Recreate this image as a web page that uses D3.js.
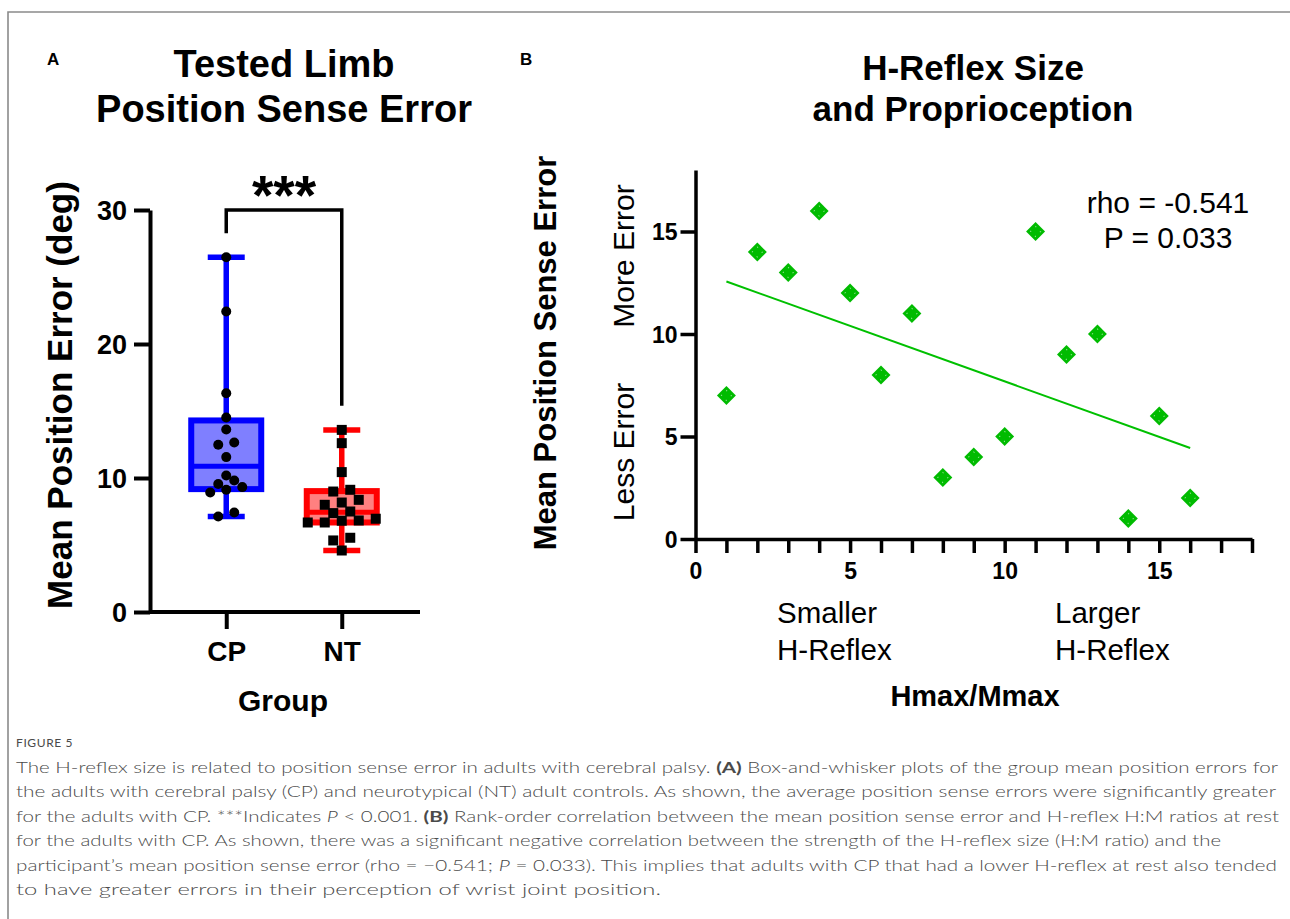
<!DOCTYPE html>
<html>
<head>
<meta charset="utf-8">
<script src="https://cdn.jsdelivr.net/npm/d3@7"></script>
<style>
  body { margin: 0; background: #fff; }
  svg { display: block; font-family: "Liberation Sans", Arial, sans-serif; }
  .cap { font-family: Lato, "Open Sans", sans-serif; font-weight: 300; fill: #4a4a4a; }
</style>
</head>
<body>
<div id="fig"></div>
<script>
// ---- data ----
var groups = ["CP", "NT"];
var cpErrors = [26.47, 22.42, 16.33, 14.52, 13.62, 12.65, 12.48, 11.56, 10.19, 9.82, 9.55, 9.32, 9.12, 8.92, 7.43, 7.13];
var ntErrors = [13.59, 12.60, 10.44, 9.12, 8.99, 8.37, 8.17, 8.0, 7.50, 7.38, 6.96, 6.83, 6.81, 6.68, 6.68, 5.54, 5.34, 4.59];
var errorTicks = [0, 10, 20, 30];

var hRank = [1, 2, 3, 4, 5, 6, 7, 8, 9, 10, 11, 12, 13, 14, 15, 16];
var errRank = [7, 14, 13, 16, 12, 8, 11, 3, 4, 5, 15, 9, 10, 1, 6, 2];
var fitX = [1, 16];
var fitY = [12.56, 4.44];
var rankTicks = [0, 5, 10, 15];

var captionLines = [
  [["The H-reflex size is related to position sense error in adults with cerebral palsy. "], ["(A)", "b"], [" Box-and-whisker plots of the group mean position errors for"]],
  [["the adults with cerebral palsy (CP) and neurotypical (NT) adult controls. As shown, the average position sense errors were significantly greater"]],
  [["for the adults with CP. ***Indicates "], ["P", "i"], [" < 0.001. "], ["(B)", "b"], [" Rank-order correlation between the mean position sense error and H-reflex H:M ratios at rest"]],
  [["for the adults with CP. As shown, there was a significant negative correlation between the strength of the H-reflex size (H:M ratio) and the"]],
  [["participant\u2019s mean position sense error (rho = \u22120.541; "], ["P", "i"], [" = 0.033). This implies that adults with CP that had a lower H-reflex at rest also tended"]],
  [["to have greater errors in their perception of wrist joint position."]]
];
var captionEnds = [1278, 1276, 1279, 1221, 1277, 661];

var W = 1290, H = 919;
var svg = d3.select("#fig").append("svg").attr("width", W).attr("height", H);

// frame
svg.append("path").attr("d", "M8," + H + "V12H" + W)
  .attr("fill", "none").attr("stroke", "#8a8a8a").attr("stroke-width", 1.6);

// ---------------- Panel A ----------------
var yA = d3.scaleLinear().domain([0, 30]).range([612, 210]);
var xA = d3.scalePoint().domain(groups).range([150, 418]).padding(0.66);

svg.append("text").attr("x", 47).attr("y", 65).attr("font-size", 17).attr("font-weight", "bold").text("A");
svg.append("text").attr("x", 284).attr("y", 77).attr("text-anchor", "middle")
  .attr("font-size", 38).attr("font-weight", "bold").text("Tested Limb");
svg.append("text").attr("x", 284).attr("y", 122).attr("text-anchor", "middle")
  .attr("font-size", 38).attr("font-weight", "bold").text("Position Sense Error");

function quantN1(a, p) {
  var s = a.slice().sort(d3.ascending), n = s.length;
  var h = (n + 1) * p, lo = Math.floor(h);
  if (lo < 1) return s[0];
  if (lo >= n) return s[n - 1];
  return s[lo - 1] + (h - lo) * (s[lo] - s[lo - 1]);
}

// spread points of similar value side by side
function spread(vals, thr, step) {
  var s = vals.slice().sort(d3.ascending), out = [], i = 0;
  while (i < s.length) {
    var j = i;
    while (j + 1 < s.length && s[j + 1] - s[i] < thr) j++;
    var k = j - i + 1;
    for (var m = 0; m < k; m++) out.push({v: s[i + m], dx: (m - (k - 1) / 2) * step});
    i = j + 1;
  }
  return out;
}

var boxStyle = {
  CP: {stroke: "#0000ff", fill: "#7f7fff", vals: cpErrors},
  NT: {stroke: "#ff0000", fill: "#ff8080", vals: ntErrors}
};

groups.forEach(function(g) {
  var st = boxStyle[g], cx = xA(g), v = st.vals;
  var q1 = quantN1(v, 0.25), q2 = quantN1(v, 0.5), q3 = quantN1(v, 0.75);
  var lo = d3.min(v), hi = d3.max(v);
  var gg = svg.append("g");
  gg.append("line").attr("x1", cx).attr("x2", cx).attr("y1", yA(lo)).attr("y2", yA(hi))
    .attr("stroke", st.stroke).attr("stroke-width", 5.5);
  [lo, hi].forEach(function(e) {
    gg.append("line").attr("x1", cx - 18.5).attr("x2", cx + 18.5).attr("y1", yA(e)).attr("y2", yA(e))
      .attr("stroke", st.stroke).attr("stroke-width", 5.5);
  });
  gg.append("rect").attr("x", cx - 35).attr("width", 70)
    .attr("y", yA(q3)).attr("height", yA(q1) - yA(q3))
    .attr("fill", st.fill).attr("stroke", st.stroke).attr("stroke-width", 6);
  gg.append("line").attr("x1", cx - 35).attr("x2", cx + 35).attr("y1", yA(q2)).attr("y2", yA(q2))
    .attr("stroke", st.stroke).attr("stroke-width", 5);

  var pts = spread(v, 0.6, g === "CP" ? 16 : 17);
  if (g === "CP") {
    gg.selectAll("circle").data(pts).join("circle")
      .attr("cx", function(d) { return cx + d.dx; }).attr("cy", function(d) { return yA(d.v); })
      .attr("r", 5).attr("fill", "#000");
  } else {
    gg.selectAll("rect.pt").data(pts).join("rect").attr("class", "pt")
      .attr("x", function(d) { return cx + d.dx - 5; }).attr("y", function(d) { return yA(d.v) - 5; })
      .attr("width", 10).attr("height", 10).attr("fill", "#000");
  }
});

// axes A
var axAy = svg.append("g").attr("transform", "translate(150,0)")
  .call(d3.axisLeft(yA).tickValues(errorTicks).tickSize(16).tickSizeOuter(0).tickPadding(7));
var axAx = svg.append("g").attr("transform", "translate(0,612)")
  .call(d3.axisBottom(xA).tickSize(17).tickSizeOuter(0).tickPadding(12));
axAx.select(".domain").attr("d", "M150,0H420");
[axAy, axAx].forEach(function(a) {
  a.select(".domain").attr("stroke", "#000").attr("stroke-width", 4);
  a.selectAll(".tick line").attr("stroke", "#000").attr("stroke-width", 4);
  a.selectAll("text").attr("font-family", null).attr("font-weight", "bold").attr("fill", "#000");
});
axAy.selectAll("text").attr("font-size", 27).attr("dy", "0.35em");
axAx.selectAll("text").attr("font-size", 28);

svg.append("text").attr("transform", "translate(72,395) rotate(-90)").attr("text-anchor", "middle")
  .attr("font-size", 35).attr("font-weight", "bold").text("Mean Position Error (deg)");
svg.append("text").attr("x", 283).attr("y", 711).attr("text-anchor", "middle")
  .attr("font-size", 30).attr("font-weight", "bold").text("Group");

// significance bracket
var brTop = 30, gap = 1.8;
svg.append("path")
  .attr("d", "M" + xA("CP") + "," + yA(d3.max(cpErrors) + gap) + "V" + yA(brTop) +
             "H" + xA("NT") + "V" + yA(d3.max(ntErrors) + gap))
  .attr("fill", "none").attr("stroke", "#000").attr("stroke-width", 3.5);
svg.append("text").attr("x", (xA("CP") + xA("NT")) / 2).attr("y", 214).attr("text-anchor", "middle")
  .attr("font-size", 55).attr("font-weight", "bold").text("***");

// ---------------- Panel B ----------------
var xB = d3.scaleLinear().domain([0, 18]).range([695.5, 1252]);
var yB = d3.scaleLinear().domain([0, 18]).range([539, 170]);

svg.append("text").attr("x", 520).attr("y", 65).attr("font-size", 17).attr("font-weight", "bold").text("B");
svg.append("text").attr("x", 973).attr("y", 80).attr("text-anchor", "middle")
  .attr("font-size", 35).attr("font-weight", "bold").text("H-Reflex Size");
svg.append("text").attr("x", 973).attr("y", 121).attr("text-anchor", "middle")
  .attr("font-size", 35).attr("font-weight", "bold").text("and Proprioception");

var axBx = svg.append("g").attr("transform", "translate(0,539)")
  .call(d3.axisBottom(xB).tickValues(d3.range(0, 19)).tickSize(14).tickSizeOuter(0).tickPadding(10)
    .tickFormat(function(d) { return rankTicks.indexOf(d) >= 0 ? d : ""; }));
var axBy = svg.append("g").attr("transform", "translate(695.5,0)")
  .call(d3.axisLeft(yB).tickValues(rankTicks).tickSize(15).tickSizeOuter(0).tickPadding(3));
[axBx, axBy].forEach(function(a) {
  a.select(".domain").attr("stroke", "#000").attr("stroke-width", 3.5);
  a.selectAll(".tick line").attr("stroke", "#000").attr("stroke-width", 3.5);
  a.selectAll("text").attr("font-family", null).attr("font-weight", "bold").attr("fill", "#000").attr("font-size", 23);
});
axBy.selectAll("text").attr("dy", "0.36em");

// regression line
svg.append("path").datum(d3.zip(fitX, fitY))
  .attr("d", d3.line().x(function(d) { return xB(d[0]); }).y(function(d) { return yB(d[1]); }))
  .attr("fill", "none").attr("stroke", "#00c000").attr("stroke-width", 2);

// diamonds
var diamond = d3.symbol().type(d3.symbolSquare).size(180);
var inner = d3.symbol().type(d3.symbolSquare).size(50);
var dg = svg.append("g").selectAll("g").data(d3.zip(hRank, errRank)).join("g")
  .attr("transform", function(d) { return "translate(" + xB(d[0]) + "," + yB(d[1]) + ") rotate(45)"; });
dg.append("path").attr("d", diamond).attr("fill", "#00bb00");
dg.append("path").attr("d", inner).attr("fill", "none").attr("stroke", "#9fe59f")
  .attr("stroke-width", 1).attr("stroke-dasharray", "1,6");

svg.append("text").attr("x", 1168).attr("y", 213).attr("text-anchor", "middle").attr("font-size", 30).text("rho = -0.541");
svg.append("text").attr("x", 1168).attr("y", 248).attr("text-anchor", "middle").attr("font-size", 30).text("P = 0.033");

svg.append("text").attr("transform", "translate(556,353) rotate(-90)").attr("text-anchor", "middle")
  .attr("font-size", 31).attr("font-weight", "bold").text("Mean Position Sense Error");
svg.append("text").attr("transform", "translate(634,256) rotate(-90)").attr("text-anchor", "middle")
  .attr("font-size", 30).text("More Error");
svg.append("text").attr("transform", "translate(634,452) rotate(-90)").attr("text-anchor", "middle")
  .attr("font-size", 30).text("Less Error");

[["Smaller", 777, 623], ["H-Reflex", 777, 660], ["Larger", 1055, 623], ["H-Reflex", 1055, 660]].forEach(function(t) {
  svg.append("text").attr("x", t[1]).attr("y", t[2]).attr("font-size", 29.5).text(t[0]);
});
svg.append("text").attr("x", 975).attr("y", 706).attr("text-anchor", "middle")
  .attr("font-size", 29).attr("font-weight", "bold").text("Hmax/Mmax");

// ---------------- caption ----------------
svg.append("text").attr("class", "cap").attr("x", 16).attr("y", 747)
  .attr("font-size", 12).attr("letter-spacing", 0.6).style("font-weight", 400).text("FIGURE 5");
captionLines.forEach(function(line, i) {
  var t = svg.append("text").attr("class", "cap").attr("x", 16).attr("y", 773 + i * 24.4)
    .attr("font-size", 16).attr("textLength", captionEnds[i] - 16).attr("lengthAdjust", "spacingAndGlyphs");
  line.forEach(function(seg) {
    var s = t.append("tspan").text(seg[0]);
    if (seg[1] === "b") s.style("font-weight", 700);
    if (seg[1] === "i") s.attr("font-style", "italic");
  });
});
</script>
</body>
</html>
